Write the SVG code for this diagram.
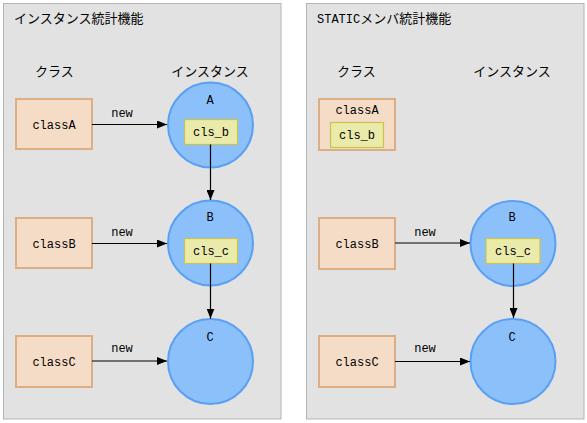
<svg xmlns="http://www.w3.org/2000/svg" width="587" height="423" viewBox="0 0 587 423">
<defs>
<marker id="arr" markerWidth="10" markerHeight="8" refX="10" refY="4" orient="auto" markerUnits="userSpaceOnUse">
<path d="M0,0 L10,4 L0,8 Z" fill="#000"/>
</marker>
<style>
.panel{fill:#e2e2e2;stroke:#b4b4b4;stroke-width:1}
.cls{fill:#f5dcc6;stroke:#dcae86;stroke-width:2}
.inst{fill:#8cc0fa;stroke:#5aa0f2;stroke-width:2}
.mem{fill:#eaeaaa;stroke:#c8c450;stroke-width:1.2}
.jp{font-family:"Noto Sans CJK JP",sans-serif;font-size:13px;fill:#000}
.mono{font-family:"Liberation Mono","DejaVu Sans Mono",monospace;font-size:12px;fill:#000}
.conn{stroke:#000;stroke-width:1.2;fill:none;marker-end:url(#arr)}
</style>
</defs>
<rect class="panel" x="3.5" y="3.5" width="277.5" height="415.5"/>
<rect class="panel" x="306.5" y="3.5" width="277.5" height="415.5"/>
<text class="jp" x="14" y="23">インスタンス統計機能</text>
<text class="jp" x="317" y="23"><tspan class="mono" style="font-size:12px">STATIC</tspan>メンバ統計機能</text>
<text class="jp" x="35" y="76">クラス</text>
<text class="jp" x="210" y="76" text-anchor="middle">インスタンス</text>
<text class="jp" x="337" y="76">クラス</text>
<text class="jp" x="512" y="76" text-anchor="middle">インスタンス</text>

<g id="L-classA"><rect class="cls" x="16" y="99" width="76" height="50"/><text class="mono" x="54" y="129" text-anchor="middle">classA</text></g>
<g id="L-classB"><rect class="cls" x="16" y="218" width="76" height="50"/><text class="mono" x="54" y="248" text-anchor="middle">classB</text></g>
<g id="L-classC"><rect class="cls" x="16" y="336" width="76" height="51"/><text class="mono" x="54" y="366" text-anchor="middle">classC</text></g>

<g id="L-instA"><circle class="inst" cx="210.5" cy="125" r="42.5"/><text class="mono" x="210" y="104" text-anchor="middle">A</text><rect class="mem" x="184.5" y="119.5" width="53" height="25"/><text class="mono" x="211" y="136" text-anchor="middle">cls_b</text></g>
<g id="L-instB"><circle class="inst" cx="210.5" cy="243" r="42.5"/><text class="mono" x="210" y="221" text-anchor="middle">B</text><rect class="mem" x="184.5" y="238.5" width="53" height="25"/><text class="mono" x="211" y="255" text-anchor="middle">cls_c</text></g>
<g id="L-instC"><circle class="inst" cx="210.5" cy="361.5" r="42.5"/><text class="mono" x="210" y="341" text-anchor="middle">C</text></g>

<g id="R-classA"><rect class="cls" x="319" y="99" width="76" height="51"/><text class="mono" x="357" y="114" text-anchor="middle">classA</text><rect class="mem" x="330.5" y="122.5" width="53" height="25"/><text class="mono" x="357" y="139" text-anchor="middle">cls_b</text></g>
<g id="R-classB"><rect class="cls" x="319" y="218" width="76" height="51"/><text class="mono" x="357" y="248" text-anchor="middle">classB</text></g>
<g id="R-classC"><rect class="cls" x="319" y="336" width="76" height="51"/><text class="mono" x="357" y="366" text-anchor="middle">classC</text></g>

<g id="R-instB"><circle class="inst" cx="513" cy="243.5" r="42.5"/><text class="mono" x="512" y="221" text-anchor="middle">B</text><rect class="mem" x="486" y="238.5" width="54" height="25"/><text class="mono" x="513" y="255" text-anchor="middle">cls_c</text></g>
<g id="R-instC"><circle class="inst" cx="513" cy="361.5" r="42.5"/><text class="mono" x="512" y="341" text-anchor="middle">C</text></g>

<g id="connectors">
<line class="conn" x1="92" y1="124.5" x2="167" y2="124.5"/>
<text class="mono" x="122" y="117" text-anchor="middle">new</text>
<line class="conn" x1="92" y1="243.5" x2="167" y2="243.5"/>
<text class="mono" x="122" y="236" text-anchor="middle">new</text>
<line class="conn" x1="92" y1="361" x2="167" y2="361"/>
<text class="mono" x="122" y="352" text-anchor="middle">new</text>
<line class="conn" x1="210.5" y1="144.5" x2="210.5" y2="200"/>
<line class="conn" x1="210.5" y1="263.5" x2="210.5" y2="318.5"/>
<line class="conn" x1="395" y1="243" x2="470" y2="243"/>
<text class="mono" x="425" y="236" text-anchor="middle">new</text>
<line class="conn" x1="395" y1="361.5" x2="470" y2="361.5"/>
<text class="mono" x="425" y="352" text-anchor="middle">new</text>
<line class="conn" x1="513.5" y1="263.5" x2="513.5" y2="318"/>
</g>
</svg>
